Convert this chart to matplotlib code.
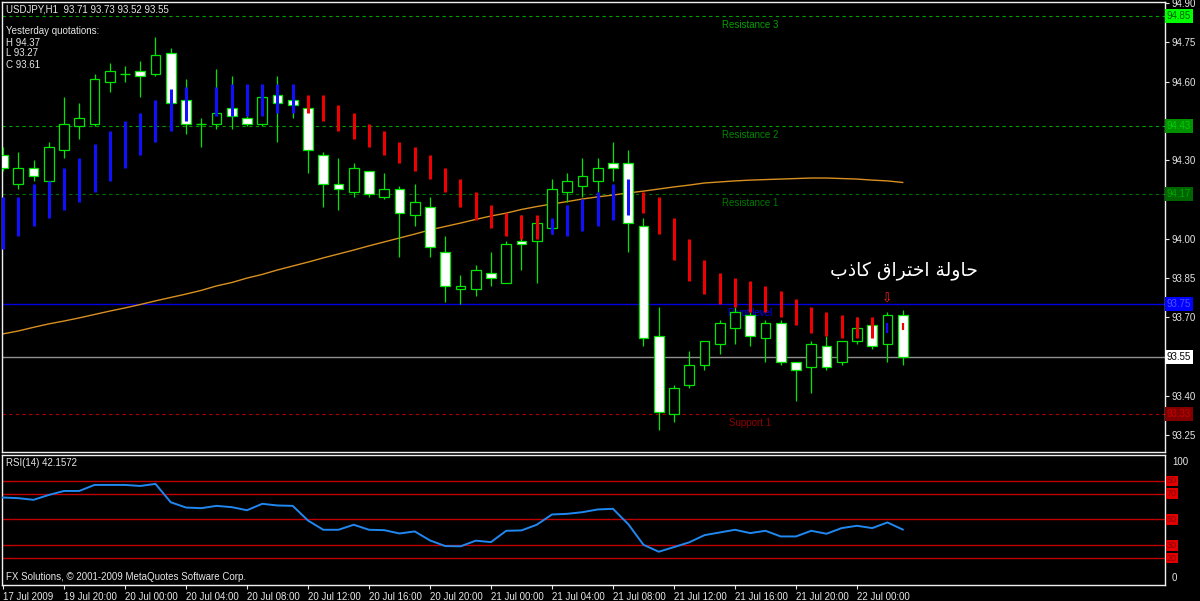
import matplotlib
matplotlib.use('Agg')
import matplotlib.pyplot as plt
import matplotlib.transforms as mtransforms
from matplotlib.patches import Rectangle
import numpy as np

plt.rcParams['font.family'] = ['Liberation Sans', 'DejaVu Sans']

# ---------------- data ----------------
opens = [94.32, 94.21, 94.27, 94.22, 94.34, 94.43, 94.44, 94.60, 94.63, 94.64,
         94.63, 94.71, 94.53, 94.44, 94.44, 94.50, 94.46, 94.44, 94.55, 94.53,
         94.50, 94.32, 94.21, 94.18, 94.26, 94.16, 94.19, 94.09, 94.12, 93.95,
         93.81, 93.81, 93.87, 93.83, 93.99, 93.99, 94.04, 94.18, 94.20, 94.22,
         94.29, 94.29, 94.05, 93.63, 93.33, 93.44, 93.52, 93.60, 93.66, 93.71,
         93.62, 93.68, 93.53, 93.51, 93.59, 93.53, 93.61, 93.67, 93.60, 93.71]
highs = [94.35, 94.33, 94.30, 94.37, 94.54, 94.52, 94.63, 94.67, 94.66, 94.68,
         94.77, 94.73, 94.61, 94.46, 94.65, 94.62, 94.47, 94.55, 94.62, 94.54,
         94.51, 94.33, 94.31, 94.29, 94.26, 94.25, 94.20, 94.21, 94.16, 94.01,
         93.86, 93.90, 93.95, 93.99, 94.09, 94.07, 94.23, 94.25, 94.31, 94.31,
         94.37, 94.34, 94.08, 93.74, 93.44, 93.57, 93.61, 93.69, 93.74, 93.72,
         93.69, 93.69, 93.53, 93.61, 93.63, 93.61, 93.70, 93.67, 93.72, 93.73]
lows = [94.26, 94.19, 94.22, 94.21, 94.31, 94.38, 94.43, 94.56, 94.60, 94.54,
        94.62, 94.51, 94.40, 94.35, 94.42, 94.42, 94.43, 94.43, 94.37, 94.46,
        94.25, 94.12, 94.11, 94.16, 94.16, 94.15, 93.93, 94.05, 93.93, 93.76,
        93.75, 93.78, 93.82, 93.83, 93.88, 93.83, 94.02, 94.14, 94.16, 94.18,
        94.22, 93.95, 93.59, 93.27, 93.30, 93.43, 93.50, 93.56, 93.60, 93.59,
        93.53, 93.52, 93.38, 93.41, 93.50, 93.52, 93.60, 93.58, 93.53, 93.52]
closes = [94.27, 94.27, 94.24, 94.35, 94.44, 94.46, 94.61, 94.64, 94.63, 94.62,
          94.70, 94.52, 94.44, 94.44, 94.48, 94.47, 94.44, 94.54, 94.52, 94.51,
          94.34, 94.21, 94.19, 94.27, 94.17, 94.19, 94.10, 94.14, 93.97, 93.82,
          93.82, 93.88, 93.85, 93.98, 93.98, 94.06, 94.19, 94.22, 94.24, 94.27,
          94.27, 94.06, 93.62, 93.34, 93.43, 93.52, 93.61, 93.68, 93.72, 93.63,
          93.68, 93.53, 93.50, 93.60, 93.51, 93.61, 93.66, 93.59, 93.71, 93.55]

# trend indicator segments (upper / lower value, colour code)
trend_hi = [94.16, 94.16, 94.21, 94.22, 94.27, 94.31, 94.36, 94.41, 94.45, 94.48,
            94.53, 94.57, 94.58, np.nan, 94.58, 94.59, 94.59, 94.59, 94.59, 94.59,
            94.55, 94.55, 94.51, 94.48, 94.44, 94.41, 94.37, 94.35, 94.32, 94.27,
            94.23, 94.18, 94.13, 94.10, 94.09, 94.09, 94.08, 94.13, 94.15, 94.18,
            94.21, 94.23, 94.18, 94.16, 94.08, 94.00, 93.92, 93.87, 93.85, 93.84,
            93.82, 93.80, 93.77, 93.74, 93.72, 93.71, 93.70, 93.70, 93.68, 93.68]
trend_lo = [93.96, 94.01, 94.05, 94.08, 94.11, 94.14, 94.18, 94.22, 94.27, 94.32,
            94.37, 94.41, 94.45, np.nan, 94.47, 94.47, 94.47, 94.47, 94.48, 94.48,
            94.48, 94.45, 94.41, 94.38, 94.35, 94.32, 94.29, 94.26, 94.23, 94.18,
            94.12, 94.07, 94.04, 94.01, 94.00, 94.00, 94.02, 94.01, 94.03, 94.05,
            94.07, 94.09, 94.10, 94.02, 93.92, 93.84, 93.79, 93.75, 93.74, 93.72,
            93.72, 93.70, 93.67, 93.64, 93.63, 93.62, 93.62, 93.62, 93.64, 93.65]
trend_dir = ['b'] * 20 + ['r'] * 16 + ['b'] * 6 + ['r'] * 16 + ['b', 'r']

ma_vals = [93.637, 93.648, 93.662, 93.675, 93.686, 93.698, 93.711, 93.724, 93.736, 93.749,
           93.763, 93.776, 93.789, 93.803, 93.820, 93.833, 93.850, 93.864, 93.881, 93.896,
           93.911, 93.927, 93.942, 93.957, 93.973, 93.988, 94.003, 94.018, 94.034, 94.047,
           94.060, 94.074, 94.087, 94.098, 94.112, 94.123, 94.133, 94.142, 94.152, 94.160,
           94.167, 94.175, 94.182, 94.190, 94.198, 94.205, 94.213, 94.217, 94.221, 94.224,
           94.226, 94.228, 94.230, 94.232, 94.232, 94.230, 94.228, 94.224, 94.221, 94.215]

rsi_vals = [67.1, 66.6, 65.3, 69.1, 72.2, 72.2, 76.9, 76.9, 76.9, 76.1,
            77.7, 63.4, 59.3, 58.8, 60.6, 59.6, 57.2, 62.2, 60.9, 60.6,
            49.2, 42.0, 42.0, 45.9, 42.0, 41.7, 39.1, 40.7, 33.7, 29.3,
            29.1, 33.5, 32.4, 41.2, 41.5, 45.9, 53.9, 54.4, 55.7, 57.8,
            58.3, 46.4, 30.3, 24.9, 28.5, 32.2, 37.8, 39.9, 42.0, 39.4,
            41.2, 36.8, 36.8, 41.2, 38.9, 43.3, 45.1, 43.3, 47.7, 42.16]
rsi_levels = [80, 70, 50, 30, 20]

time_labels = ['17 Jul 2009', '19 Jul 20:00', '20 Jul 00:00', '20 Jul 04:00', '20 Jul 08:00',
               '20 Jul 12:00', '20 Jul 16:00', '20 Jul 20:00', '21 Jul 00:00', '21 Jul 04:00',
               '21 Jul 08:00', '21 Jul 12:00', '21 Jul 16:00', '21 Jul 20:00', '22 Jul 00:00']
time_label_pos = [0, 4, 8, 12, 16, 20, 24, 28, 32, 36, 40, 44, 48, 52, 56]

price_ticks = [94.90, 94.75, 94.60, 94.45, 94.30, 94.15, 94.00, 93.85, 93.70, 93.55, 93.40, 93.25]
hidden_tick_labels = [94.45, 94.15, 93.55]   # covered by the price boxes

level_prices = [94.85, 94.43, 94.17, 93.75, 93.33]
level_names = ['Resistance 3', 'Resistance 2', 'Resistance 1', 'Pivot level', 'Support 1']
current_price = 93.55

# ---------------- figure ----------------
W, H = 1200, 601
fig = plt.figure(figsize=(W / 100, H / 100), dpi=100, facecolor='black')

def fx(px):
    return px / W

def fy(py):
    return 1 - py / H

ax = fig.add_axes([fx(2), fy(452), fx(1165) - fx(2), fy(2) - fy(452)], facecolor='black')
axr = fig.add_axes([fx(2), fy(585), fx(1165) - fx(2), fy(455) - fy(585)], facecolor='black')

n = len(opens)
xs = np.arange(n)
XMIN, XMAX = -0.066, 76.2
ax.set_xlim(XMIN, XMAX)
ax.set_ylim(93.186, 94.904)
axr.set_xlim(XMIN, XMAX)
axr.set_ylim(-1.0, 100.2)

FG = '#E6E6E6'
GREEN = '#00E600'
for a in (ax, axr):
    for s in a.spines.values():
        s.set_color('#F0F0F0')
        s.set_linewidth(1.0)

# level lines
lvl_styles = [
    dict(color='#00A000', ls=(0, (3, 3)), lw=0.8),
    dict(color='#00A000', ls=(0, (3, 3)), lw=0.8),
    dict(color='#007000', ls=(0, (3, 3)), lw=0.8),
    dict(color='#0000E0', ls='-', lw=1.0),
    dict(color='#B00000', ls=(0, (3, 3)), lw=0.8),
]
lvl_text_col = ['#00A000', '#008800', '#007800', '#0000FF', '#900000']
for p, nm, st, tc in zip(level_prices, level_names, lvl_styles, lvl_text_col):
    ax.axhline(p, zorder=1, **st)
    ax.annotate(nm, xy=(49.0, p), xytext=(0, -2.5), textcoords='offset points',
                ha='center', va='top', fontsize=7, color=tc, zorder=2)
ax.axhline(current_price, color='#909090', lw=1.0, zorder=1)

# moving average
ax.plot(xs, ma_vals, color='#D89020', lw=1.0, zorder=2)

# candles
bw = 0.64
for i in range(n):
    o, h, l, c = opens[i], highs[i], lows[i], closes[i]
    ax.vlines(i, l, h, color=GREEN, lw=0.9, zorder=3)
    bottom = min(o, c)
    height = abs(c - o)
    if height < 0.004:
        ax.hlines(o, i - bw / 2, i + bw / 2, color=GREEN, lw=1.0, zorder=4)
    else:
        fc = 'white' if c < o else 'black'
        ax.add_patch(Rectangle((i - bw / 2, bottom), bw, height, facecolor=fc,
                               edgecolor=GREEN, lw=0.9, zorder=4))

# trend indicator segments
for i in range(n):
    if np.isnan(trend_hi[i]):
        continue
    col = '#1010FF' if trend_dir[i] == 'b' else '#F00000'
    lw = 2.2
    if i >= 58:
        lw = 1.6
    ax.vlines(i, trend_lo[i], trend_hi[i], color=col, lw=lw, zorder=5)

# right price axis
ax.yaxis.tick_right()
ax.set_yticks(price_ticks)
ax.set_yticklabels(['' if t in hidden_tick_labels else '%.2f' % t for t in price_ticks])
ax.tick_params(axis='y', colors=FG, labelsize=7, length=3, width=0.8, pad=2)
ax.set_xticks([])

trans = mtransforms.blended_transform_factory(ax.transAxes, ax.transData)
box_specs = [
    (94.85, '#00FF00', '#006000'),
    (94.43, '#009000', '#00D000'),
    (94.17, '#006400', '#00A800'),
    (93.75, '#0000FF', '#5050FF'),
    (current_price, '#FFFFFF', '#000000'),
    (93.33, '#800000', '#C80000'),
]
for p, fc, tc in box_specs:
    ax.text(1.0015, p, '%.2f' % p, transform=trans, ha='left', va='center',
            fontsize=7, color=tc, clip_on=False, zorder=10,
            bbox=dict(boxstyle='square,pad=0.2', fc=fc, ec='none'))

# annotations
fig.text(fx(6), fy(10), 'USDJPY,H1  93.71 93.73 93.52 93.55', fontsize=7, color=FG,
         ha='left', va='center')
for txt, py in [('Yesterday quotations:', 31.5), ('H 94.37', 42.5), ('L 93.27', 53.5), ('C 93.61', 65)]:
    fig.text(fx(6), fy(py), txt, fontsize=7, color=FG, ha='left', va='center')

# Arabic note (presentation forms in visual order)
arabic_visual = '\ufe8f\ufeab\ufe8e\ufedb \ufed5\ufe8d\ufeae\ufe98\ufea7\ufe8d \ufe94\ufedf\ufeed\ufe8e\ufea3'
fig.text(fx(830), fy(271), arabic_visual, fontsize=13.5, color='white', ha='left', va='center',
         family=['DejaVu Sans'])
ax.text(58, 93.768, '\u21e9', fontsize=9, color='#FF2020', ha='center', va='center', zorder=7,
        family=['DejaVu Sans'])

# ---------------- RSI ----------------
for lv in rsi_levels:
    axr.axhline(lv, color='#C00000', lw=1.0, zorder=1)
axr.plot(xs, rsi_vals, color='#2088F0', lw=1.4, zorder=3)
axr.set_yticks([])
axr.set_xticks(time_label_pos)
axr.set_xticklabels(time_labels, ha='left')
axr.tick_params(axis='x', colors=FG, labelsize=7, length=3, width=0.8, pad=2)

transr = mtransforms.blended_transform_factory(axr.transAxes, axr.transData)
for lv in rsi_levels:
    axr.text(1.0015, lv, str(lv), transform=transr, ha='left', va='center', fontsize=6.5,
             color='#8A0000', clip_on=False,
             bbox=dict(boxstyle='square,pad=0.1', fc='#E00000', ec='none'))
fig.text(fx(1172), fy(462), '100', fontsize=7, color=FG, ha='left', va='center')
fig.text(fx(1172), fy(578), '0', fontsize=7, color=FG, ha='left', va='center')

fig.text(fx(6), fy(463), 'RSI(14) 42.1572', fontsize=7, color=FG, ha='left', va='center')
fig.text(fx(6), fy(577), 'FX Solutions, \u00a9 2001-2009 MetaQuotes Software Corp.', fontsize=7,
         color=FG, ha='left', va='center')

fig.savefig('out.png', dpi=100, facecolor='black')
